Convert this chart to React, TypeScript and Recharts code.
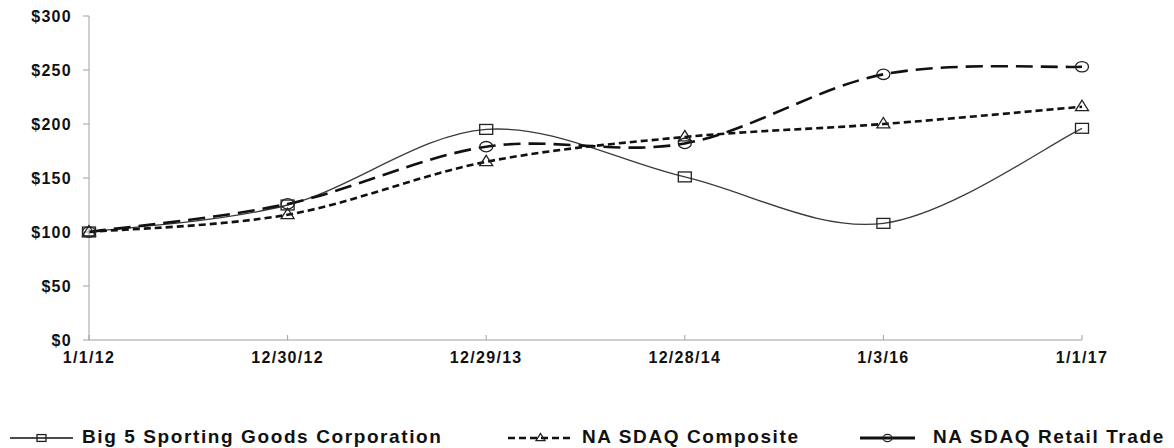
import { LineChart, Line, XAxis, YAxis } from 'recharts';

const dates = ['1/1/12', '12/30/12', '12/29/13', '12/28/14', '1/3/16', '1/1/17'];
const big5 = [100, 125, 195, 151, 108, 196];
const composite = [100, 116, 165, 188, 200, 216];
const retail = [100, 126, 179, 182, 246, 253];
const yTicks = [0, 50, 100, 150, 200, 250, 300];

const data = dates.map((date, i) => ({
  date,
  big5: big5[i],
  composite: composite[i],
  retail: retail[i],
}));

const FONT = '"Liberation Sans", Arial, sans-serif';

// Excel-like smoothing: Catmull-Rom segments as cubic beziers
function smoothCurve(context: any) {
  let pts: number[][] = [];
  return {
    areaStart() {},
    areaEnd() {},
    lineStart() {
      pts = [];
    },
    point(x: number, y: number) {
      pts.push([+x, +y]);
    },
    lineEnd() {
      if (!pts.length) return;
      context.moveTo(pts[0][0], pts[0][1]);
      for (let i = 0; i < pts.length - 1; i++) {
        const p0 = pts[i - 1] || pts[i];
        const p1 = pts[i];
        const p2 = pts[i + 1];
        const p3 = pts[i + 2] || p2;
        context.bezierCurveTo(
          p1[0] + (p2[0] - p0[0]) / 6,
          p1[1] + (p2[1] - p0[1]) / 6,
          p2[0] - (p3[0] - p1[0]) / 6,
          p2[1] - (p3[1] - p1[1]) / 6,
          p2[0],
          p2[1],
        );
      }
    },
  };
}

const SquareDot = ({ cx, cy, size = 13 }: any) => (
  <rect x={cx - size / 2} y={cy - size * 0.38} width={size} height={size * 0.76} fill="none" stroke="#222" strokeWidth={1.3} />
);

const TriangleDot = ({ cx, cy, size = 13 }: any) => (
  <path
    d={`M${cx},${cy - size * 0.5} L${cx + size / 2},${cy + size * 0.3} L${cx - size / 2},${cy + size * 0.3} Z`}
    fill="none"
    stroke="#222"
    strokeWidth={1.3}
  />
);

const CircleDot = ({ cx, cy, size = 13 }: any) => (
  <ellipse cx={cx} cy={cy} rx={size / 2} ry={size * 0.4} fill="none" stroke="#222" strokeWidth={1.3} />
);

const XTick = ({ x, y, payload }: any) => (
  <g>
    <line x1={x} y1={y - 5} x2={x} y2={y} stroke="#a0a0a0" />
    <text x={x} y={y + 23} textAnchor="middle" fontFamily={FONT} fontWeight="bold" fontSize={16} letterSpacing={1.3} fill="#111">
      {payload.value}
    </text>
  </g>
);

const YTick = ({ x, y, payload }: any) => (
  <text x={x - 11} y={y + 6} textAnchor="end" fontFamily={FONT} fontWeight="bold" fontSize={16} letterSpacing={1.3} fill="#111">
    ${payload.value}
  </text>
);

const legendItems = [
  { name: 'Big 5 Sporting Goods Corporation', left: 10, iconW: 63, textLeft: 82, dash: undefined, width: 1.3, Dot: SquareDot },
  { name: 'NA SDAQ Composite', left: 508, iconW: 65, textLeft: 582, dash: '7 4', width: 2.5, Dot: TriangleDot },
  { name: 'NA SDAQ Retail Trade', left: 860, iconW: 55, textLeft: 933, dash: undefined, width: 2.8, Dot: CircleDot },
];

export default function App() {
  return (
    <div style={{ position: 'absolute', left: 0, top: 0, width: 1174, height: 448, background: '#fff' }}>
      <LineChart width={1174} height={448} data={data} margin={{ top: 16, right: 92, left: 0, bottom: 78 }}>
        <XAxis
          dataKey="date"
          height={30}
          tickLine={false}
          tickSize={0}
          tickMargin={0}
          tick={<XTick />}
          interval={0}
          stroke="#a0a0a0"
          padding={{ left: 0, right: 0 }}
        />
        <YAxis
          width={89}
          domain={[0, 300]}
          ticks={yTicks}
          tickSize={6}
          tickMargin={0}
          tick={<YTick />}
          stroke="#a0a0a0"
          interval={0}
        />
        <Line
          dataKey="big5"
          type={smoothCurve as any}
          stroke="#3a3a3a"
          strokeWidth={1.3}
          dot={(p: any) => <SquareDot key={p.index} cx={p.cx} cy={p.cy} />}
          activeDot={false}
          isAnimationActive={false}
        />
        <Line
          dataKey="composite"
          type={smoothCurve as any}
          stroke="#111"
          strokeWidth={2.6}
          strokeDasharray="7 4"
          dot={(p: any) => <TriangleDot key={p.index} cx={p.cx} cy={p.cy} />}
          activeDot={false}
          isAnimationActive={false}
        />
        <Line
          dataKey="retail"
          type={smoothCurve as any}
          stroke="#111"
          strokeWidth={2.6}
          strokeDasharray="17 8"
          dot={(p: any) => <CircleDot key={p.index} cx={p.cx} cy={p.cy} />}
          activeDot={false}
          isAnimationActive={false}
        />
      </LineChart>
      {legendItems.map((item) => (
        <div key={item.name} style={{ position: 'absolute', top: 424, left: item.left, height: 26 }}>
          <svg width={item.iconW} height={26} style={{ position: 'absolute', left: 0, top: 0 }}>
            <line x1={0} y1={14} x2={item.iconW} y2={14} stroke="#111" strokeWidth={item.width} strokeDasharray={item.dash} />
            <item.Dot cx={item.iconW / 2} cy={14} size={9} />
          </svg>
          <span
            style={{
              position: 'absolute',
              left: item.textLeft - item.left,
              top: 0,
              whiteSpace: 'nowrap',
              fontFamily: FONT,
              fontWeight: 'bold',
              fontSize: 19,
              letterSpacing: 1.6,
              lineHeight: '26px',
              color: '#111',
            }}
          >
            {item.name}
          </span>
        </div>
      ))}
    </div>
  );
}
